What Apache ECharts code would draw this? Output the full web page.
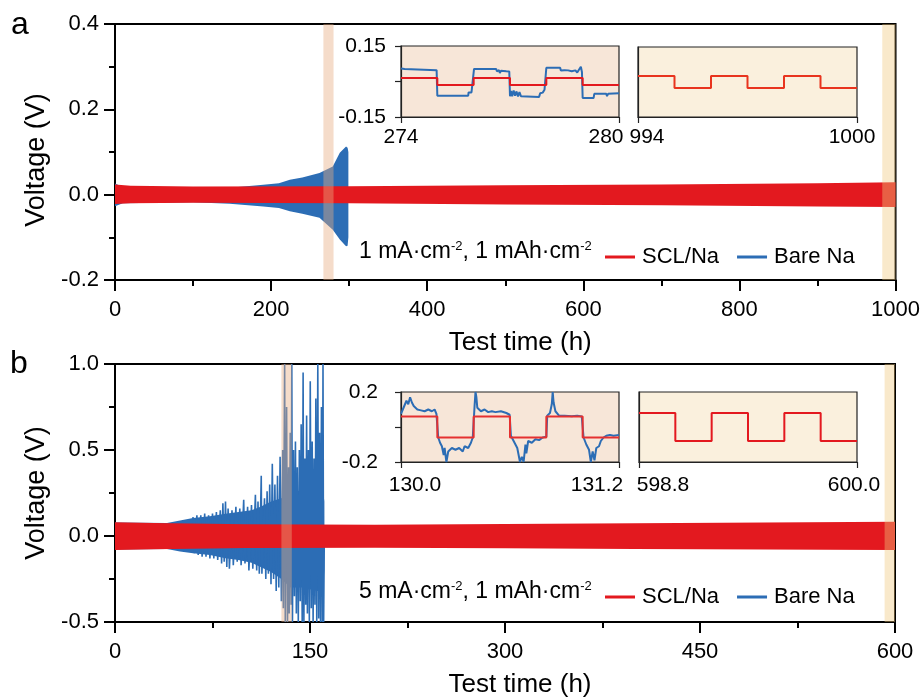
<!DOCTYPE html>
<html><head><meta charset="utf-8">
<script src="https://cdn.jsdelivr.net/npm/echarts@6/dist/echarts.min.js"></script>
<style>html,body{margin:0;padding:0;background:#fff}#c{width:923px;height:699px}</style>
</head><body><div id="c"></div>
<script>
// ================= DATA =================
// Panel a (1 mA cm-2): envelope of the voltage profiles
const sclA_t  = [0, 20, 100, 300, 500, 700, 900, 1000];
const sclA_up = [0.024, 0.021, 0.019, 0.020, 0.022, 0.024, 0.027, 0.029];
const sclA_lo = [-0.022, -0.020, -0.019, -0.020, -0.023, -0.025, -0.028, -0.029];
const bareA_t  = [0, 10, 100, 147, 190, 210, 224, 240, 262, 279, 288, 296, 298, 299];
const bareA_up = [0.026, 0.018, 0.015, 0.016, 0.023, 0.027, 0.035, 0.040, 0.051, 0.066, 0.098, 0.113, 0.110, 0.100];
const bareA_lo = [-0.027, -0.020, -0.018, -0.021, -0.028, -0.031, -0.039, -0.045, -0.054, -0.082, -0.105, -0.121, -0.120, -0.100];
const hlA = [[267, 280], [983, 1000]];

// Panel b (5 mA cm-2)
const sclB_t  = [0, 30, 100, 200, 300, 400, 500, 600];
const sclB_up = [0.080, 0.075, 0.068, 0.066, 0.070, 0.074, 0.078, 0.083];
const sclB_lo = [-0.082, -0.077, -0.070, -0.068, -0.071, -0.075, -0.079, -0.082];
const bareB_t  = [0, 40, 50, 60, 73, 85, 95, 105, 112, 120, 128, 135, 145, 155, 160, 161];
const bareB_up = [0.078, 0.075, 0.09, 0.105, 0.115, 0.13, 0.14, 0.15, 0.17, 0.2, 0.22, 0.25, 0.27, 0.28, 0.28, 0.2];
const bareB_lo = [-0.078, -0.075, -0.09, -0.1, -0.11, -0.13, -0.14, -0.155, -0.18, -0.21, -0.25, -0.3, -0.3, -0.32, -0.32, -0.2];
const bareB_spikes = [[60,0.11],[61,-0.1],[63,0.12],[64,-0.11],[66,0.12],[67,-0.12],[69,0.13],[70,-0.12],[72,0.12],[73,-0.13],[75,0.13],[76,-0.13],[78,0.14],[79,-0.14],[81,0.15],[82,-0.16],[83,0.19],[84,-0.15],[85,0.2],[86,-0.18],[87,0.16],[88,-0.19],[90,0.15],[91,-0.17],[93,0.17],[94,-0.15],[96,0.16],[97,-0.17],[99,0.21],[100,-0.16],[102,0.17],[103,-0.2],[105,0.18],[106,-0.19],[108,0.24],[109,-0.2],[110,0.2],[111,-0.22],[112.5,0.35],[113,-0.22],[115,0.22],[116,-0.25],[117,0.26],[118,-0.22],[119,0.3],[120,-0.28],[121,0.42],[122,-0.25],[123,0.3],[124,-0.32],[125,0.35],[126,-0.3],[127,0.46],[128,-0.38],[129,0.5],[129.5,-0.42],[130.5,1.0],[131,-0.5],[132,0.75],[132.7,-0.5],[133.5,0.4],[134,-0.45],[134.8,0.6],[135.5,-0.4],[136,1.0],[136.5,-0.5],[137.3,0.5],[138,-0.35],[138.8,0.55],[139.5,-0.45],[140.2,0.4],[141,-0.5],[141.8,0.5],[142.5,-0.38],[143.2,0.65],[144,-0.5],[144.7,0.95],[145.3,-0.5],[146,0.45],[146.7,-0.4],[147.4,0.7],[148,-0.45],[148.8,0.5],[149.5,-0.5],[150.2,0.9],[151,-0.42],[151.7,0.55],[152.4,-0.5],[153.1,0.45],[153.8,-0.4],[154.5,0.8],[155.2,-0.5],[156,1.0],[156.7,-0.48],[157.4,0.6],[158.1,-0.5],[158.8,0.75],[159.5,-0.5],[160,1.0],[160.5,-0.5],[161,0]];
const hlB = [[128, 136], [592, 600]];

// Insets
const in1_scl = [[274,0.015],[275,-0.015],[276,0.015],[277,-0.015],[278,0.015],[279,-0.015],[280,-0.015]];
const in1_bare = [[274.0,0.055],[274.1,0.053],[274.12,0.048],[274.98,0.048],[275.0,-0.06],[275.85,-0.06],[275.86,-0.046],[275.94,-0.046],[275.95,-0.032],[275.99,-0.03],[276.01,0.053],[276.62,0.053],[276.64,0.043],[276.66,0.05],[276.68,0.038],[276.7,0.048],[276.72,0.036],[276.75,0.045],[276.8,0.04],[276.9,0.043],[276.98,0.042],[277.0,-0.062],[277.03,-0.04],[277.06,-0.062],[277.1,-0.038],[277.14,-0.06],[277.18,-0.042],[277.22,-0.063],[277.26,-0.045],[277.3,-0.062],[277.35,-0.065],[277.8,-0.065],[277.83,-0.05],[277.9,-0.047],[277.95,-0.035],[277.98,-0.03],[278.0,0.058],[278.38,0.058],[278.4,0.046],[278.5,0.048],[278.55,0.04],[278.6,0.047],[278.7,0.043],[278.8,0.047],[278.85,0.038],[278.9,0.045],[278.95,0.062],[278.98,0.04],[279.0,-0.07],[279.3,-0.07],[279.32,-0.052],[279.65,-0.052],[279.67,-0.062],[279.7,-0.052],[280.0,-0.05]];
const in2_scl = [[994,0.026],[995,-0.026],[996,0.026],[997,-0.026],[998,0.026],[999,-0.026],[1000,-0.026]];
const in3_scl = [[130.0,0.06],[130.2,-0.06],[130.4,0.06],[130.6,-0.06],[130.8,0.06],[131.0,-0.06],[131.2,-0.06]];
const in3_bare = [[130.0,0.075],[130.01,0.1],[130.03,0.15],[130.04,0.13],[130.05,0.17],[130.06,0.14],[130.07,0.12],[130.09,0.1],[130.11,0.095],[130.13,0.09],[130.15,0.1],[130.17,0.09],[130.185,0.1],[130.195,0.075],[130.205,-0.06],[130.215,-0.09],[130.225,-0.11],[130.235,-0.16],[130.24,-0.12],[130.25,-0.2],[130.26,-0.14],[130.28,-0.12],[130.3,-0.13],[130.32,-0.12],[130.34,-0.14],[130.35,-0.11],[130.36,-0.1],[130.37,-0.12],[130.385,-0.09],[130.395,-0.06],[130.405,0.12],[130.41,0.2],[130.415,0.17],[130.42,0.11],[130.44,0.09],[130.46,0.1],[130.48,0.085],[130.5,0.09],[130.52,0.085],[130.55,0.09],[130.58,0.08],[130.598,0.07],[130.605,-0.05],[130.62,-0.08],[130.64,-0.12],[130.655,-0.2],[130.665,-0.17],[130.675,-0.2],[130.685,-0.1],[130.69,-0.15],[130.7,-0.08],[130.72,-0.09],[130.74,-0.07],[130.76,-0.075],[130.78,-0.06],[130.8,-0.055],[130.805,0.065],[130.82,0.08],[130.83,0.13],[130.835,0.2],[130.84,0.14],[130.85,0.09],[130.87,0.065],[130.9,0.065],[130.94,0.062],[130.97,0.065],[130.995,0.06],[131.005,-0.06],[131.02,-0.1],[131.035,-0.13],[131.045,-0.2],[131.055,-0.14],[131.065,-0.19],[131.075,-0.12],[131.09,-0.11],[131.1,-0.08],[131.115,-0.06],[131.13,-0.05],[131.15,-0.045],[131.17,-0.05],[131.2,-0.045]];
const in4_scl = [[598.8,0.08],[599.0,-0.08],[599.2,0.08],[599.4,-0.08],[599.6,0.08],[599.8,-0.08],[600.0,-0.08]];

const condA = '1 mA·cm{s|-2}, 1 mAh·cm{s|-2}';
const condB = '5 mA·cm{s|-2}, 1 mAh·cm{s|-2}';
// ================= STYLE =================
const FONT = 'Liberation Sans, Arial, Helvetica, sans-serif';
const RED = '#e3191f', BLUE = '#2c6db5';
const PEACH = '#f7e6d8', CREAM = '#faf0dd';

function band(t, up, lo, color) {
  return function (params, api) {
    const pts = [];
    for (let i = 0; i < t.length; i++) pts.push(api.coord([t[i], up[i]]));
    for (let i = t.length - 1; i >= 0; i--) pts.push(api.coord([t[i], lo[i]]));
    return { type: 'polygon', shape: { points: pts }, style: { fill: color } };
  };
}
function hl(ranges, ymin, ymax, colors) {
  return function (params, api) {
    const r = ranges[params.dataIndex];
    const p0 = api.coord([r[0], ymax]), p1 = api.coord([r[1], ymin]);
    return { type: 'rect', shape: { x: p0[0], y: p0[1], width: p1[0] - p0[0], height: p1[1] - p0[1] }, style: { fill: colors[params.dataIndex] } };
  };
}
const mainAxisBase = {
  axisLine: { onZero: false, lineStyle: { color: '#000', width: 2 } },
  axisTick: { inside: false, length: 11, lineStyle: { color: '#000', width: 2 } },
  minorTick: { show: true, splitNumber: 2, length: 6, lineStyle: { color: '#000', width: 2 } },
  splitLine: { show: false }, minorSplitLine: { show: false },
};
function mainX(grid, max, interval) {
  return Object.assign({}, mainAxisBase, {
    type: 'value', gridIndex: grid, min: 0, max: max, interval: interval,
    name: 'Test time (h)', nameLocation: 'middle', nameGap: 50,
    nameTextStyle: { color: '#000', fontSize: 26, fontFamily: FONT, padding: [0, 0, 0, 30] },
    axisLabel: { color: '#000', fontSize: 22, fontFamily: FONT, margin: 19, formatter: v => String(v) }
  });
}
function mainY(grid, min, max, interval, pad) {
  return Object.assign({}, mainAxisBase, {
    type: 'value', gridIndex: grid, min: min, max: max, interval: interval,
    name: 'Voltage (V)', nameLocation: 'middle', nameGap: 55,
    nameTextStyle: { color: '#000', fontSize: 27, fontFamily: FONT, padding: [0, pad, 0, 0] },
    axisLabel: { color: '#000', fontSize: 22, fontFamily: FONT, margin: 16,
      formatter: v => (Math.abs(v) < 1e-9 ? '0.0' : v.toFixed(1)) }
  });
}
const inAxisBase = {
  axisLine: { onZero: false, lineStyle: { color: '#222', width: 1.2 } },
  axisTick: { inside: false, length: 6, lineStyle: { color: '#222', width: 1.2 } },
  splitLine: { show: false }
};
function inX(grid, min, max, dec, padMin, padMax, margin) {
  return Object.assign({}, inAxisBase, {
    type: 'value', gridIndex: grid, min: min, max: max, interval: +(max - min).toFixed(6),
    axisLabel: {
      margin: margin, color: '#000', fontSize: 21, fontFamily: FONT,
      formatter: v => (Math.abs(v - min) < 1e-6 ? '{a|' + min.toFixed(dec) + '}' : '{b|' + max.toFixed(dec) + '}'),
      rich: {
        a: { fontSize: 21, fontFamily: FONT, color: '#000', padding: [0, 0, 0, padMin] },
        b: { fontSize: 21, fontFamily: FONT, color: '#000', padding: [0, padMax, 0, 0] }
      }
    }
  });
}
function inY(grid, lim, showLab, dec, margin) {
  return Object.assign({}, inAxisBase, {
    type: 'value', gridIndex: grid, min: -lim, max: lim, interval: lim,
    axisTick: { show: showLab, inside: false, length: 6, lineStyle: { color: '#222', width: 1.2 } },
    axisLabel: { show: showLab, margin: margin, color: '#000', fontSize: 21, fontFamily: FONT,
      formatter: v => (Math.abs(v) < 1e-9 ? '' : v.toFixed(dec)) }
  });
}
function legend(top) {
  return {
    left: 600, top: top, orient: 'horizontal', selectedMode: false,
    icon: 'rect', itemWidth: 30, itemHeight: 3, itemGap: 18,
    textStyle: { color: '#000', fontSize: 22, fontFamily: FONT, padding: [0, 0, 0, 2] },
    data: [{ name: 'SCL/Na', itemStyle: { color: RED } }, { name: 'Bare Na', itemStyle: { color: BLUE } }]
  };
}
function step(name, x, data, color, z) {
  return { type: 'line', name: name, xAxisIndex: x, yAxisIndex: x, data: data, step: 'end', symbol: 'none',
    lineStyle: { color: color, width: 2 }, itemStyle: { color: color }, z: z, silent: true };
}
function raw(name, x, data, color, w, z) {
  return { type: 'line', name: name, xAxisIndex: x, yAxisIndex: x, data: data, symbol: 'none',
    lineStyle: { color: color, width: w }, itemStyle: { color: color }, z: z, silent: true };
}

const option = {
  animation: false,
  backgroundColor: '#fff',
  grid: [
    { left: 115, top: 24, width: 781, height: 256, show: true, borderColor: '#000', borderWidth: 2, backgroundColor: 'transparent' },
    { left: 115, top: 364, width: 780, height: 258, show: true, borderColor: '#000', borderWidth: 2, backgroundColor: 'transparent' },
    { left: 401, top: 46, width: 218, height: 71, show: true, borderColor: '#222', borderWidth: 1.2, backgroundColor: PEACH },
    { left: 638, top: 47, width: 219, height: 70, show: true, borderColor: '#222', borderWidth: 1.2, backgroundColor: CREAM },
    { left: 401, top: 392, width: 218, height: 70, show: true, borderColor: '#222', borderWidth: 1.2, backgroundColor: PEACH },
    { left: 639, top: 392, width: 218, height: 70, show: true, borderColor: '#222', borderWidth: 1.2, backgroundColor: CREAM }
  ],
  xAxis: [
    mainX(0, 1000, 200), mainX(1, 600, 150),
    inX(2, 274, 280, 0, 0, 26, 10), inX(3, 994, 1000, 0, 18, 10, 10),
    inX(4, 130, 131.2, 1, 28, 44, 13), inX(5, 598.8, 600, 1, 48, 6, 13)
  ],
  yAxis: [
    mainY(0, -0.2, 0.4, 0.2, 16), mainY(1, -0.5, 1.0, 0.5, 0),
    inY(2, 0.15, true, 2, 15), inY(3, 0.15, false, 2, 15),
    inY(4, 0.2, true, 1, 23), inY(5, 0.2, false, 1, 23)
  ],
  legend: [legend(241), legend(581)],
  graphic: [
    { type: 'text', left: 11, top: 9, style: { text: 'a', font: '32px ' + FONT, fill: '#000' } },
    { type: 'text', left: 10, top: 348, style: { text: 'b', font: '32px ' + FONT, fill: '#000' } },
    { type: 'text', left: 359, top: 240, style: { text: condA, font: '23px ' + FONT, fill: '#000',
        rich: { s: { fontSize: 13, fontFamily: FONT, fill: '#000', verticalAlign: 'top' } } } },
    { type: 'text', left: 359, top: 580, style: { text: condB, font: '23px ' + FONT, fill: '#000',
        rich: { s: { fontSize: 13, fontFamily: FONT, fill: '#000', verticalAlign: 'top' } } } }
  ],
  series: [
    { type: 'custom', name: 'Bare Na', xAxisIndex: 0, yAxisIndex: 0, data: [[0, 0]], clip: true, z: 2, silent: true,
      itemStyle: { color: BLUE }, renderItem: band(bareA_t, bareA_up, bareA_lo, BLUE) },
    { type: 'custom', name: 'SCL/Na', xAxisIndex: 0, yAxisIndex: 0, data: [[0, 0]], clip: true, z: 3, silent: true,
      itemStyle: { color: RED }, renderItem: band(sclA_t, sclA_up, sclA_lo, RED) },
    { type: 'custom', xAxisIndex: 0, yAxisIndex: 0, data: hlA, clip: true, z: 4, silent: true,
      renderItem: hl(hlA, -0.2, 0.4, ['rgba(232,172,128,0.42)', 'rgba(240,200,125,0.4)']) },

    { type: 'custom', name: 'Bare Na', xAxisIndex: 1, yAxisIndex: 1, data: [[0, 0]], clip: true, z: 2, silent: true,
      itemStyle: { color: BLUE }, renderItem: band(bareB_t, bareB_up, bareB_lo, BLUE) },
    Object.assign(raw('Bare Na', 1, bareB_spikes, BLUE, 1.6, 2), { clip: true }),
    { type: 'custom', name: 'SCL/Na', xAxisIndex: 1, yAxisIndex: 1, data: [[0, 0]], clip: true, z: 3, silent: true,
      itemStyle: { color: RED }, renderItem: band(sclB_t, sclB_up, sclB_lo, RED) },
    { type: 'custom', xAxisIndex: 1, yAxisIndex: 1, data: hlB, clip: true, z: 4, silent: true,
      renderItem: hl(hlB, -0.5, 1.0, ['rgba(232,172,128,0.42)', 'rgba(240,200,125,0.4)']) },

    raw('Bare Na', 2, in1_bare, BLUE, 2, 5),
    step('SCL/Na', 2, in1_scl, RED, 6),
    step('SCL/Na', 3, in2_scl, '#e8341e', 6),
    raw('Bare Na', 4, in3_bare, BLUE, 2, 5),
    step('SCL/Na', 4, in3_scl, '#e53030', 6),
    step('SCL/Na', 5, in4_scl, RED, 6)
  ]
};
const chart = echarts.init(document.getElementById('c'), null, { renderer: 'canvas' });
chart.setOption(option);
</script>
</body></html>
